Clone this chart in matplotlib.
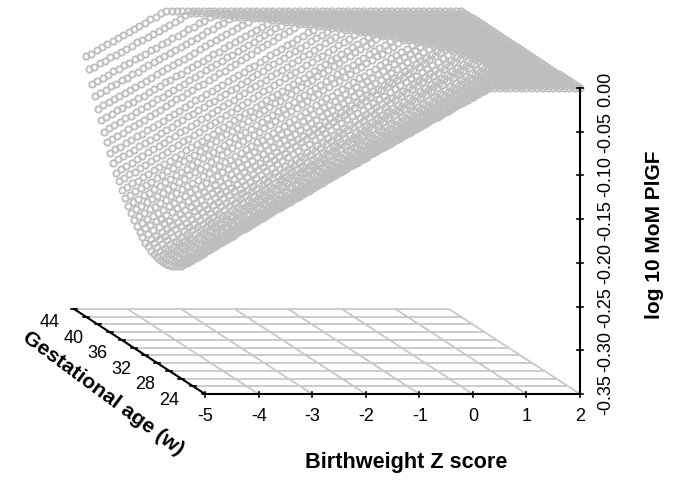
import matplotlib
matplotlib.use("Agg")
import matplotlib.pyplot as plt
import numpy as np

plt.rcParams['font.family'] = ['Liberation Sans', 'DejaVu Sans']

x_ticks = [-5, -4, -3, -2, -1, 0, 1, 2]
x_labels = ['-5', '-4', '-3', '-2', '-1', '0', '1', '2']
g_grid = [22, 24, 26, 28, 30, 32, 34, 36, 38, 40, 42, 44]
g_labels = [24, 28, 32, 36, 40, 44]
z_ticks = [0.00, -0.05, -0.10, -0.15, -0.20, -0.25, -0.30, -0.35]
z_labels = ['0.00', '-0.05', '-0.10', '-0.15', '-0.20', '-0.25', '-0.30', '-0.35']
x_samples = [-5 + i * 0.1 for i in range(71)]
g_rows = [22 + i * 0.5 for i in range(41)]

# depth below zero (thousandths of log10 MoM), read along each gestational-age row, from Z=-5
depth = [
[179,176,172,169,166,162,159,155,152,149,145,142,139,135,132,128,125,122,118,115,112,108,105,101,98,95,91,88,85,81,78,74,71,68,64,61,58,54,51,47,44,41,37,34,31,27,24,20,17,14,10,7,3],
[186,183,179,176,172,169,165,162,158,155,152,148,145,141,138,134,131,127,124,121,117,114,110,107,103,100,97,93,90,86,83,79,76,72,69,66,62,59,55,52,48,45,41,38,35,31,28,24,21,17,14,10,7,3],
[192,189,185,182,178,175,171,168,164,161,157,154,150,147,143,140,136,133,129,126,122,119,115,112,108,105,101,98,94,91,87,84,80,77,73,70,66,63,59,56,52,49,45,42,38,35,31,28,24,21,17,14,10,7,3],
[198,194,191,187,184,180,177,173,170,166,163,159,156,152,148,145,141,138,134,131,127,124,120,117,113,110,106,103,99,95,92,88,85,81,78,74,71,67,64,60,57,53,50,46,42,39,35,32,28,25,21,18,14,11,7,4],
[204,200,197,193,190,186,182,179,175,171,168,164,161,157,153,150,146,142,139,135,132,128,124,121,117,113,110,106,103,99,95,92,88,84,81,77,74,70,66,63,59,55,52,48,45,41,37,34,30,26,23,19,16,12,8,5,1],
[209,205,202,198,194,191,187,183,180,176,172,169,165,161,158,154,150,147,143,139,136,132,128,125,121,117,114,110,106,103,99,95,92,88,84,81,77,73,70,66,62,59,55,51,48,44,40,37,33,29,26,22,18,15,11,7,4],
[213,209,206,202,198,195,191,187,184,180,176,173,169,165,162,158,154,151,147,143,140,136,132,129,125,121,118,114,110,107,103,99,96,92,88,85,81,77,74,70,66,63,59,55,52,48,44,41,37,33,30,26,22,19,15,11,8,4],
[217,213,210,206,202,199,195,191,188,184,180,177,173,169,165,162,158,154,151,147,143,140,136,132,129,125,121,118,114,110,107,103,99,96,92,88,85,81,77,74,70,66,63,59,55,52,48,44,40,37,33,29,26,22,18,15,11,7,4],
[221,217,214,210,206,202,199,195,191,187,184,180,176,172,169,165,161,157,154,150,146,142,139,135,131,127,124,120,116,112,109,105,101,97,94,90,86,82,79,75,71,67,64,60,56,52,49,45,41,37,34,30,26,22,19,15,11,7,4],
[223,219,215,212,208,204,200,197,193,189,185,181,178,174,170,166,163,159,155,151,147,144,140,136,132,129,125,121,117,113,110,106,102,98,95,91,87,83,79,76,72,68,64,61,57,53,49,45,42,38,34,30,27,23,19,15,11,8,4],
[226,222,218,215,211,207,203,200,196,192,188,185,181,177,173,169,166,162,158,154,151,147,143,139,136,132,128,124,120,117,113,109,105,102,98,94,90,87,83,79,75,71,68,64,60,56,53,49,45,41,38,34,30,26,22,19,15,11,7,4],
[228,224,220,217,213,209,205,201,198,194,190,186,182,179,175,171,167,163,160,156,152,148,144,141,137,133,129,125,122,118,114,110,106,103,99,95,91,87,84,80,76,72,68,65,61,57,53,49,46,42,38,34,30,27,23,19,15,11,8,4],
[229,225,221,218,214,210,206,202,198,195,191,187,183,179,176,172,168,164,160,156,153,149,145,141,137,134,130,126,122,118,115,111,107,103,99,95,92,88,84,80,76,73,69,65,61,57,53,50,46,42,38,34,31,27,23,19,15,11,8,4],
[230,226,222,219,215,211,207,203,199,196,192,188,184,180,176,173,169,165,161,157,153,150,146,142,138,134,130,127,123,119,115,111,107,104,100,96,92,88,84,81,77,73,69,65,61,58,54,50,46,42,38,35,31,27,23,19,15,12,8,4],
[230,226,222,218,214,211,207,203,199,195,191,187,183,179,175,172,168,164,160,156,152,148,144,140,136,133,129,125,121,117,113,109,105,101,97,94,90,86,82,78,74,70,66,62,58,55,51,47,43,39,35,31,27,23,19,16,12,8,4],
[230,226,222,218,214,211,207,203,199,195,191,187,183,179,175,172,168,164,160,156,152,148,144,140,136,133,129,125,121,117,113,109,105,101,97,94,90,86,82,78,74,70,66,62,58,55,51,47,43,39,35,31,27,23,19,16,12,8,4],
[229,225,221,217,213,210,206,202,198,194,190,186,182,179,175,171,167,163,159,155,151,148,144,140,136,132,128,124,120,117,113,109,105,101,97,93,89,86,82,78,74,70,66,62,58,55,51,47,43,39,35,31,27,24,20,16,12,8,4],
[228,224,220,216,212,208,204,200,197,193,189,185,181,177,173,169,165,161,157,153,149,145,141,138,134,130,126,122,118,114,110,106,102,98,94,90,86,82,79,75,71,67,63,59,55,51,47,43,39,35,31,27,24,20,16,12,8,4],
[226,222,218,214,210,207,203,199,195,191,187,183,179,175,171,168,164,160,156,152,148,144,140,136,132,129,125,121,117,113,109,105,101,97,93,90,86,82,78,74,70,66,62,58,54,51,47,43,39,35,31,27,23,19,16,12,8,4],
[223,219,215,211,207,203,200,196,192,188,184,180,176,172,168,164,160,157,153,149,145,141,137,133,129,125,121,117,114,110,106,102,98,94,90,86,82,78,74,71,67,63,59,55,51,47,43,39,35,31,28,24,20,16,12,8,4],
[221,217,213,209,205,201,197,193,189,185,181,178,174,170,166,162,158,154,150,146,142,138,134,130,126,122,118,114,110,106,102,98,95,91,87,83,79,75,71,67,63,59,55,51,47,43,39,35,32,28,24,20,16,12,8,4],
[217,213,209,205,201,198,194,190,186,182,178,174,170,167,163,159,155,151,147,143,139,136,132,128,124,120,116,112,108,105,101,97,93,89,85,81,78,74,70,66,62,58,54,50,47,43,39,35,31,27,23,19,16,12,8,4],
[213,209,205,201,198,194,190,186,182,178,174,170,167,163,159,155,151,147,143,139,136,132,128,124,120,116,112,108,105,101,97,93,89,85,81,77,74,70,66,62,58,54,50,46,43,39,35,31,27,23,19,15,12,8,4],
[209,205,201,197,194,190,186,182,178,174,170,166,163,159,155,151,147,143,139,135,132,128,124,120,116,112,108,104,101,97,93,89,85,81,77,73,70,66,62,58,54,50,46,43,39,35,31,27,23,19,15,12,8,4],
[204,200,196,192,189,185,181,177,173,169,165,162,158,154,150,146,142,138,135,131,127,123,119,115,112,108,104,100,96,92,88,85,81,77,73,69,65,62,58,54,50,46,42,39,35,31,27,23,19,15,12,8,4],
[198,194,190,186,182,179,175,171,167,163,159,155,151,148,144,140,136,132,128,124,120,116,113,109,105,101,97,93,89,85,81,78,74,70,66,62,58,54,50,47,43,39,35,31,27,23,19,16,12,8,4],
[192,188,184,180,177,173,169,165,161,157,154,150,146,142,138,134,131,127,123,119,115,111,108,104,100,96,92,88,84,81,77,73,69,65,61,58,54,50,46,42,38,35,31,27,23,19,15,12,8,4],
[186,182,178,174,171,167,163,159,155,151,147,143,140,136,132,128,124,120,116,112,109,105,101,97,93,89,85,81,77,74,70,66,62,58,54,50,46,43,39,35,31,27,23,19,15,12,8,4],
[179,175,171,168,164,160,156,152,149,145,141,137,133,129,126,122,118,114,110,107,103,99,95,91,88,84,80,76,72,69,65,61,57,53,50,46,42,38,34,30,27,23,19,15,11,8,4],
[171,167,163,160,156,152,148,144,141,137,133,129,125,122,118,114,110,106,103,99,95,91,87,84,80,76,72,68,65,61,57,53,49,46,42,38,34,30,27,23,19,15,11,8,4],
[163,159,155,152,148,144,140,136,133,129,125,121,117,114,110,106,102,99,95,91,87,83,80,76,72,68,64,61,57,53,49,46,42,38,34,30,27,23,19,15,11,8,4],
[154,150,146,143,139,135,131,128,124,120,116,113,109,105,101,98,94,90,86,83,79,75,71,68,64,60,56,53,49,45,41,38,34,30,26,23,19,15,11,8,4],
[145,141,138,134,130,126,123,119,115,112,108,104,100,97,93,89,85,82,78,74,71,67,63,59,56,52,48,45,41,37,33,30,26,22,19,15,11,7,4],
[135,131,128,124,120,116,113,109,105,101,98,94,90,86,83,79,75,71,68,64,60,56,53,49,45,41,38,34,30,26,23,19,15,11,8,4],
[125,121,118,114,110,107,103,99,96,92,88,85,81,77,74,70,66,62,59,55,51,48,44,40,37,33,29,26,22,18,15,11,7,4],
[114,110,107,103,100,96,93,89,86,82,78,75,71,68,64,61,57,53,50,46,43,39,36,32,28,25,21,18,14,11,7,4],
[103,99,96,92,89,85,82,78,75,71,68,64,60,57,53,50,46,43,39,35,32,28,25,21,18,14,11,7,4],
[91,87,84,80,77,73,70,66,63,59,56,52,49,45,42,38,35,31,28,24,21,17,14,10,7,3],
[79,76,72,69,65,62,58,55,51,48,45,41,38,34,31,27,24,21,17,14,10,7,3],
[65,62,58,55,51,48,45,41,38,34,31,28,24,21,17,14,11,7,3],
[52,49,45,42,38,35,31,28,24,21,17,14,10,7,3],
]

W, H = 673, 485
fig = plt.figure(figsize=(W / 100, H / 100), dpi=100)
ax = fig.add_axes([0, 0, 1, 1])
ax.set_xlim(0, W)
ax.set_ylim(H, 0)
ax.axis('off')

X0, Y0, XLEN = 205.0, 395.0, 375.0
GDX, GDY = 131.0 / 22, 85.0 / 22
ZLEN = 306.0


def proj(x, g, z=-0.35):
    x, g, z = np.asarray(x, float), np.asarray(g, float), np.asarray(z, float)
    px = X0 + (x + 5) / 7 * XLEN - (g - 22) * GDX
    py = Y0 - (g - 22) * GDY - (z + 0.35) / 0.35 * ZLEN
    return px, py


GRID = '#C8C8C8'
MARK = '#BEBEBE'
for g in g_grid[1:]:
    a = proj([-5, 2], [g, g])
    ax.plot(a[0], a[1], color=GRID, lw=1.3, zorder=1, solid_capstyle='butt')
for x in x_ticks[1:]:
    a = proj([x, x], [22, 44])
    ax.plot(a[0], a[1], color=GRID, lw=1.3, zorder=1, solid_capstyle='butt')

for g, row in reversed(list(zip(g_rows, depth))):
    vals = [-d / 1000 for d in row] + [0.0] * (len(x_samples) - len(row))
    px, py = proj(x_samples, [g] * len(x_samples), vals)
    ax.plot(px, py, ls='none', marker='o', ms=4.5, mfc='none', mec=MARK, mew=1.35, zorder=2)

# axes
a = proj([-5, 2], [22, 22])
ax.plot(a[0], a[1], color='black', lw=1.5, zorder=3, solid_capstyle='projecting')
a = proj([-5, -5], [22, 44])
ax.plot(a[0], a[1], color='black', lw=1.5, zorder=3)
a = proj([2, 2], [22, 22], [-0.35, 0.0])
ax.plot(a[0], a[1], color='black', lw=1.5, zorder=3, solid_capstyle='projecting')

for x, lab in zip(x_ticks, x_labels):
    px, py = proj(x, 22)
    ax.plot([px, px], [py - 2, py + 3], color='black', lw=1.2, zorder=3)
    ax.text(px + 0.5, py + 21.5, lab, ha='center', va='center', fontsize=13)
for g in g_grid:
    px, py = proj(-5, g)
    ax.plot([px - 3, px + 3], [py, py], color='black', lw=1.2, zorder=3)
for g in g_labels:
    px, py = proj(-5, g)
    ax.text(px - 24, py + 13, str(g), ha='center', va='center', fontsize=13)
for z, lab in zip(z_ticks, z_labels):
    px, py = proj(2, 22, z)
    ax.plot([px - 3, px + 3], [py, py], color='black', lw=1.2, zorder=3)
    ax.text(606, py, lab, ha='center', va='center', rotation=90, fontsize=13)

ax.text(406, 463, 'Birthweight Z score', ha='center', va='center', fontsize=15.6, fontweight='bold')
ax.text(654, 235, 'log 10 MoM PlGF', ha='center', va='center', rotation=90, fontsize=15, fontweight='bold')
ax.text(103, 393, 'Gestational age (w)', ha='center', va='center', rotation=-36.5,
        rotation_mode='anchor', fontsize=15.3, fontweight='bold')

fig.savefig('out.png', dpi=100)
